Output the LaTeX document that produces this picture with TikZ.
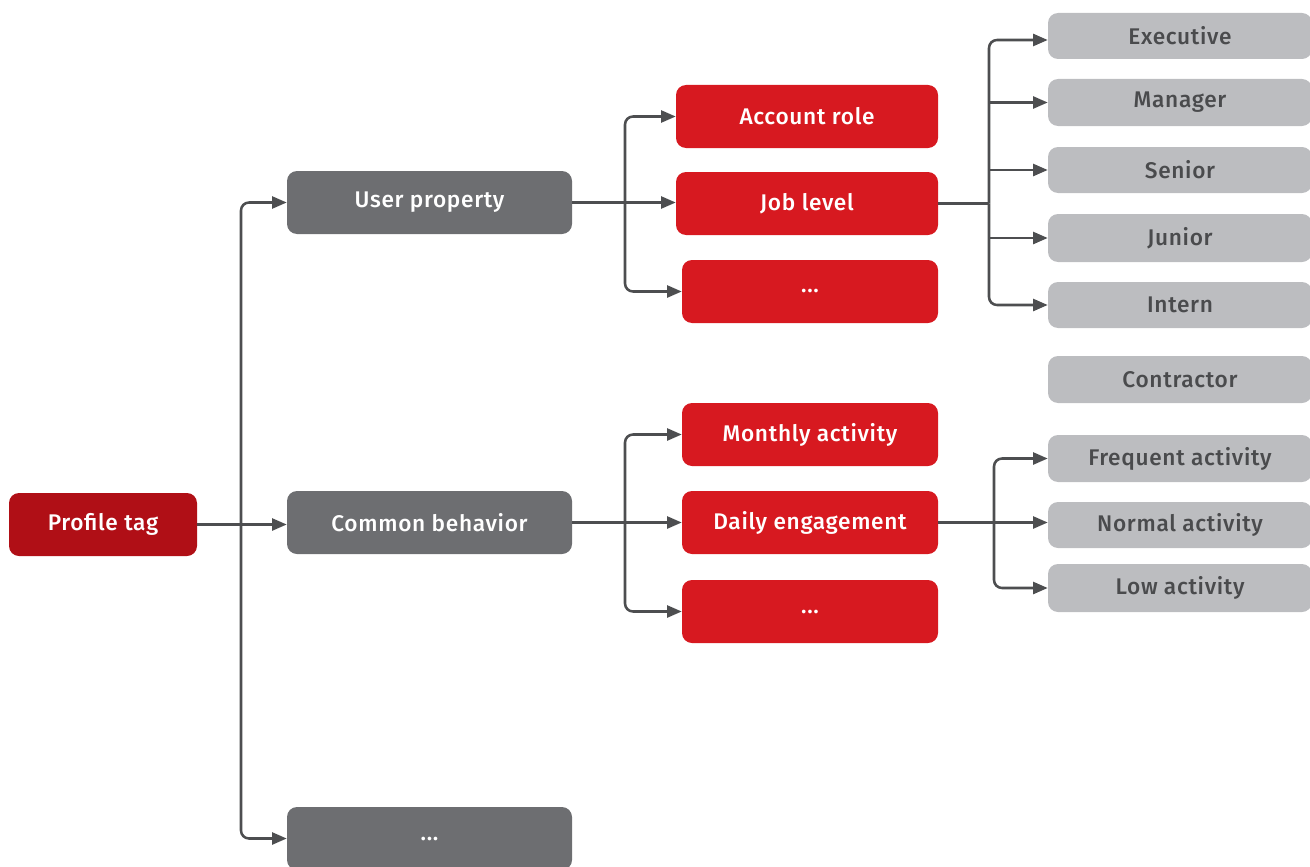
\documentclass[tikz,border=0pt]{standalone}
\usepackage{fontspec}
\setmainfont{Fira Sans Medium}[LetterSpace=3]
\usetikzlibrary{arrows.meta}
\definecolor{rootred}{HTML}{B00F16}
\definecolor{tagred}{HTML}{D71920}
\definecolor{catgray}{HTML}{6D6E71}
\definecolor{leafgray}{HTML}{BCBDC0}
\definecolor{linegray}{HTML}{4D4E50}
\definecolor{leaftext}{HTML}{4A4B4D}
\begin{document}
\begin{tikzpicture}[x=0.75pt,y=-0.75pt,
  box/.style={rectangle, rounded corners=7.5pt, inner sep=0pt, text=white,
    font=\fontsize{17}{19}\selectfont, minimum height=63*0.75pt},
  rootbox/.style={box, fill=rootred, minimum width=188*0.75pt},
  catbox/.style={box, fill=catgray, minimum width=285*0.75pt},
  tagbox/.style={box, fill=tagred, minimum width=256*0.75pt},
  leafbox/.style={box, fill=leafgray, text=leaftext, minimum width=264*0.75pt, minimum height=47*0.75pt},
  conn/.style={draw=linegray, line width=1.9pt, rounded corners=6pt,
    -{Triangle[length=11pt,width=9pt]}},
  plain/.style={draw=linegray, line width=1.9pt}]
\useasboundingbox (0,0) rectangle (1310,867);

% root and first level
\node[rootbox] (profile) at (103,524.5) {Profile tag};
\node[catbox] (user) at (429.5,202.5) {User property};
\node[catbox] (common) at (429.5,522.5) {Common behavior};
\node[catbox] (catmore) at (429.5,838.5) {...};

% second level
\node[tagbox, minimum width=262*0.75pt] (acct) at (807,116.5) {Account role};
\node[tagbox, minimum width=262*0.75pt] (job) at (807,203.5) {Job level};
\node[tagbox] (usermore) at (810,291.5) {...};
\node[tagbox] (monthly) at (810,434.5) {Monthly activity};
\node[tagbox] (daily) at (810,522.5) {Daily engagement};
\node[tagbox] (commonmore) at (810,611.5) {...};

% third level
\node[leafbox, minimum height=46*0.75pt] (exec) at (1180,36) {Executive};
\node[leafbox] (manager) at (1180,102.5) {Manager};
\node[leafbox, minimum height=46*0.75pt] (senior) at (1180,170) {Senior};
\node[leafbox, minimum height=48*0.75pt] (junior) at (1180,238) {Junior};
\node[leafbox, minimum height=46*0.75pt] (intern) at (1180,305) {Intern};
\node[leafbox] (contractor) at (1180,379.5) {Contractor};
\node[leafbox] (frequent) at (1180,458.5) {Frequent activity};
\node[leafbox, minimum height=46*0.75pt] (normal) at (1180,525) {Normal activity};
\node[leafbox, minimum height=48*0.75pt] (low) at (1180,588) {Low activity};

% trunk positions
\coordinate (ta) at (241,0);
\coordinate (tb) at (625,0);
\coordinate (tc) at (989,0);
\coordinate (td) at (994,0);

% profile tag -> categories
\draw[conn] (profile.east) -- (profile.east -| common.west);
\draw[conn] (profile.east -| ta) |- (user.west);
\draw[conn] (profile.east -| ta) |- (catmore.west);

% user property -> tags
\draw[conn] (user.east) -- (user.east -| job.west);
\draw[conn] (user.east -| tb) |- (acct.west);
\draw[conn] (user.east -| tb) |- (usermore.west);

% common behavior -> tags
\draw[conn] (common.east) -- (daily.west);
\draw[conn] (common.east -| tb) |- (monthly.west);
\draw[conn] (common.east -| tb) |- (commonmore.west);

% job level -> values
\draw[plain] (job.east) -- (job.east -| tc);
\draw[conn] (job.east -| tc) |- ([yshift=-3pt]exec.west);
\draw[conn] (job.east -| tc) |- (intern.west);
\draw[conn] (manager.west -| tc) -- (manager.west);
\draw[conn] (senior.west -| tc) -- (senior.west);
\draw[conn] (junior.west -| tc) -- (junior.west);

% daily engagement -> values
\draw[conn] (daily.east) -- (daily.east -| normal.west);
\draw[conn] (daily.east -| td) |- (frequent.west);
\draw[conn] (daily.east -| td) |- (low.west);
\end{tikzpicture}
\end{document}
